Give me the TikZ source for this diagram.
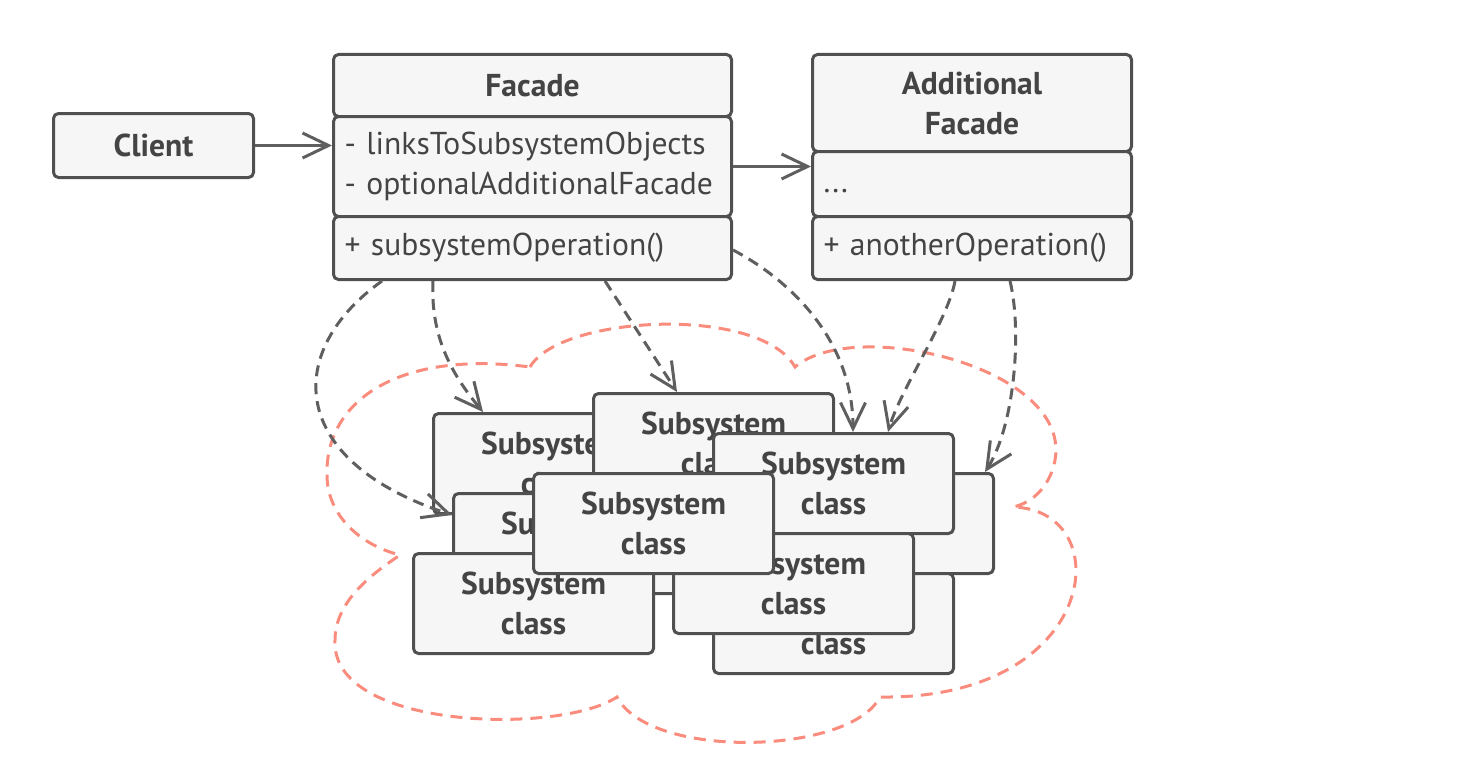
\documentclass[tikz,border=0pt]{standalone}
\usepackage{fontspec}
\setmainfont{PT Sans}
\usetikzlibrary{arrows.meta}
\definecolor{boxline}{RGB}{80,80,80}
\definecolor{boxfill}{RGB}{246,246,246}
\definecolor{txtc}{RGB}{68,68,68}
\definecolor{arrc}{RGB}{95,95,95}
\definecolor{cloudc}{RGB}{250,140,125}
\begin{document}
\begin{tikzpicture}[x=1pt,y=-1pt,
  umlbox/.style={draw=boxline, fill=boxfill, line width=3pt, rounded corners=5pt, inner sep=0pt, anchor=north west, text=txtc},
  sub/.style={umlbox, minimum width=240pt, minimum height=100pt, align=center, font=\fontsize{31.6pt}{40pt}\selectfont\bfseries},
  headf/.style={umlbox, align=center, font=\fontsize{31.6pt}{40pt}\selectfont\bfseries},
  bodyf/.style={umlbox, align=left, inner xsep=11pt, font=\fontsize{31.6pt}{40pt}\selectfont},
  conn/.style={draw=arrc, line width=3pt, -{Straight Barb[length=26pt,width=25pt]}},
  dconn/.style={conn, dash pattern=on 11pt off 7pt},
  cloudline/.style={draw=cloudc, line width=3pt, dash pattern=on 12pt off 8pt}
]
\useasboundingbox (0,0) rectangle (1458,768);

% cloud
\draw[cloudline]
 (530,367) .. controls (560,315) and (760,305) .. (795,367)
 .. controls (850,320) and (1040,360) .. (1055,440)
 .. controls (1060,465) and (1045,500) .. (1013,507)
 .. controls (1120,510) and (1100,700) .. (880,697)
 .. controls (850,755) and (650,760) .. (617,697)
 .. controls (560,735) and (330,730) .. (335,640)
 .. controls (335,600) and (375,572) .. (400,555)
 .. controls (360,545) and (327,515) .. (327,475)
 .. controls (325,400) and (400,350) .. (530,367);

% subsystem classes (back to front)
\node[sub] (A) at (432,412) {Subsystem\\class};
\node[sub] (B) at (592,392) {Subsystem\\class};
\node[sub] (E) at (452,492) {Subsystem\\class};
\node[sub] (D) at (752,472) {Subsystem\\class};
\node[sub] (H) at (712,572) {Subsystem\\class};
\node[sub] (C) at (712,432) {Subsystem\\class};
\node[sub] (I) at (672,532) {Subsystem\\class};
\node[sub] (G) at (412,552) {Subsystem\\class};
\node[sub] (F) at (532,472) {Subsystem\\class};

% client
\node[headf, minimum width=200pt, minimum height=64pt] (client) at (52,112) {Client};

% facade
\node[headf, minimum width=398pt, minimum height=62pt] (fhead) at (332,53) {Facade};
\node[bodyf, text width=376pt, minimum height=100pt] (fatt) at (332,115) {- linksToSubsystemObjects\\- optionalAdditionalFacade};
\node[bodyf, text width=376pt, minimum height=63pt] (fops) at (332,215) {+ subsystemOperation()};

% additional facade
\node[headf, minimum width=319pt, minimum height=97pt] (ahead) at (811,53) {Additional\\Facade};
\node[bodyf, text width=297pt, minimum height=65pt] (aatt) at (811,150) {\strut...};
\node[bodyf, text width=297pt, minimum height=63pt] (aops) at (811,215) {+ anotherOperation()};

% solid associations
\draw[conn] (client.east) -- (client.east -| fatt.west);
\draw[conn] (fatt.east) -- (fatt.east -| aatt.west);

% dashed dependencies
\draw[dconn] ([xshift=50pt]fops.south west) .. controls (285,350) and (285,460) .. ([yshift=-23pt]E.north west);
\draw[dconn] ([xshift=101pt]fops.south west) .. controls (430,340) and (455,378) .. ([xshift=51pt]A.north west);
\draw[dconn] ([xshift=273pt]fops.south west) -- ([xshift=85pt]B.north west);
\draw[dconn] ([yshift=-35pt]fops.north east) .. controls (790,280) and (853,340) .. ([xshift=141pt]C.north west);
\draw[dconn] ([xshift=144pt]aops.south west) .. controls (948,320) and (900,390) .. ([xshift=176pt]C.north west);
\draw[dconn] ([xshift=199pt]aops.south west) .. controls (1022,330) and (1015,425) .. ([xshift=233pt]D.north west);
\end{tikzpicture}
\end{document}
